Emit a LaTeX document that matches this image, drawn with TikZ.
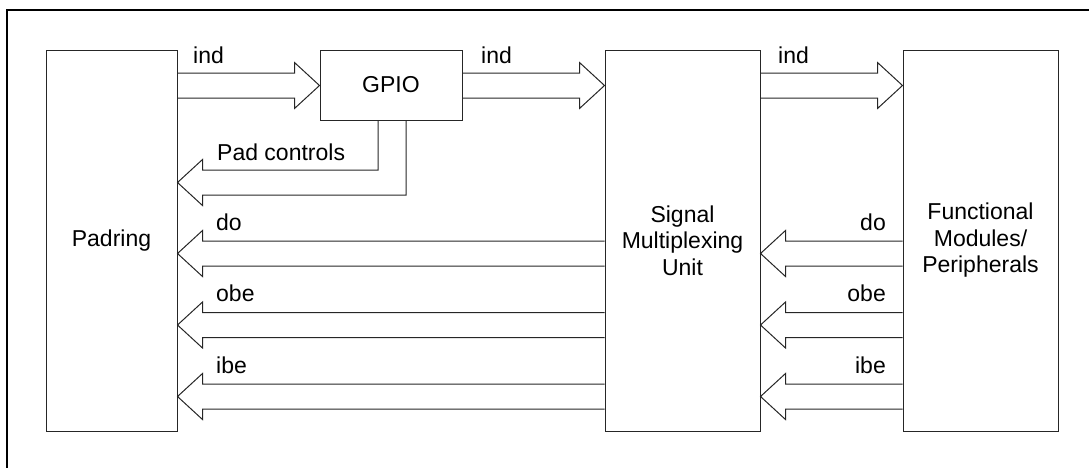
\documentclass[tikz,border=0pt]{standalone}
\usepackage{fontspec}
\setmainfont{Liberation Sans}
\usetikzlibrary{calc}
\tikzset{
  box/.style={draw=black!85, line width=1pt, fill=white, inner sep=0pt, align=center},
  conn/.style={draw=black!85, line width=1pt, line join=miter},
  lbl/.style={inner sep=0pt},
}
\newcommand\fatarrow[4]{%
  \path (#1 |- 0,#3) coordinate (fa1) (#2 |- 0,#3) coordinate (fa2);
  \draw[conn] ($(fa1)+(0,-12.5)$) -- ($(fa2)+({-25*#4},-12.5)$) -- ($(fa2)+({-25*#4},-23)$) -- (fa2)
    -- ($(fa2)+({-25*#4},23)$) -- ($(fa2)+({-25*#4},12.5)$) -- ($(fa1)+(0,12.5)$);
}
\begin{document}
\begin{tikzpicture}[x=1pt,y=-1pt,font=\fontsize{23}{26.5}\selectfont]
\useasboundingbox (0,0) rectangle (1089,467);
\clip (0,0) rectangle (1089,467);
\draw[line width=2pt] (7,10) rectangle (1110,490);
% boxes
\node[box, minimum width=131, minimum height=381] (pad) at (111.5,240.5) {Padring};
\node[box, minimum width=142, minimum height=70] (gpio) at (391,85) {GPIO};
\node[box, minimum width=155, minimum height=381] (smu) at (682.5,240.5) {Signal\\Multiplexing\\Unit};
\node[box, minimum width=155, minimum height=381] (fm) at (980.5,240.5) {Functional\\Modules/\\Peripherals};
% ind arrows
\fatarrow{pad.east}{gpio.west}{85.5}{1}
\fatarrow{gpio.east}{smu.west}{85.5}{1}
\fatarrow{smu.east}{fm.west}{85.5}{1}
% pad controls
\coordinate (pc) at (pad.east |- 0,182.5);
\draw[conn] (gpio.south -| 378,0) |- ($(pc)+(25,-12.5)$) -- ($(pc)+(25,-23)$) -- (pc)
  -- ($(pc)+(25,23)$) -- ($(pc)+(25,12.5)$) -| (gpio.south -| 406,0);
% do / obe / ibe
\fatarrow{smu.west}{pad.east}{253.5}{-1}
\fatarrow{smu.west}{pad.east}{325}{-1}
\fatarrow{smu.west}{pad.east}{396.5}{-1}
\fatarrow{fm.west}{smu.east}{253.5}{-1}
\fatarrow{fm.west}{smu.east}{325}{-1}
\fatarrow{fm.west}{smu.east}{396.5}{-1}
% labels
\node[lbl, anchor=base west] (l1) at (193,63) {ind};
\node[lbl, anchor=base west] (l2) at (481,63) {ind};
\node[lbl, anchor=base west] (l3) at (778,63) {ind};
\node[lbl, anchor=base west] (l4) at (217,160) {Pad controls};
\node[lbl, anchor=base west] (l5) at (216,230) {do};
\node[lbl, anchor=base west] (l6) at (216,301.5) {obe};
\node[lbl, anchor=base west] (l7) at (216,373) {ibe};
\node[lbl, anchor=base east] (r5) at (886,230) {do};
\node[lbl, anchor=base east] (r6) at (886,301.5) {obe};
\node[lbl, anchor=base east] (r7) at (886,373) {ibe};
\end{tikzpicture}
\end{document}
